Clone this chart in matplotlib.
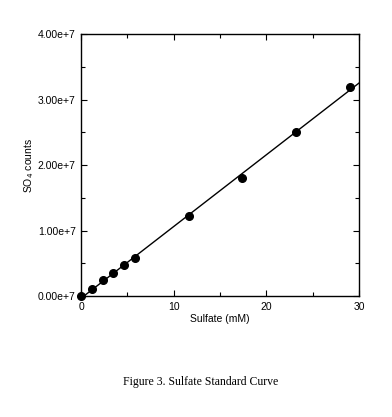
import matplotlib.pyplot as plt
import numpy as np
from matplotlib.ticker import MultipleLocator

# sulfate standards (mM) and measured SO4 counts
sulfate_mM = [0.0, 1.16, 2.32, 3.48, 4.64, 5.8, 11.6, 17.4, 23.2, 29.0]
so4_counts = [0.0, 0.11e7, 0.24e7, 0.35e7, 0.47e7, 0.58e7,
              1.22e7, 1.80e7, 2.51e7, 3.20e7]
x_ticks = [0, 10, 20, 30]
y_ticks = [0, 1e7, 2e7, 3e7, 4e7]
y_tick_labels = ["0.00e+7", "1.00e+7", "2.00e+7", "3.00e+7", "4.00e+7"]

x = np.array(sulfate_mM)
y = np.array(so4_counts)
slope, icpt = np.polyfit(x, y, 1)

plt.rcParams["font.family"] = ["Liberation Sans", "DejaVu Sans"]

fig = plt.figure(figsize=(3.92, 4.17), dpi=100)
ax = fig.add_axes([0.207, 0.290, 0.709, 0.628])

xf = np.array([0.0, 30.0])
ax.plot(xf, slope * xf + icpt, color="black", lw=1.0)
ax.plot(x, y, "o", color="black", ms=5.5, clip_on=False, zorder=3)

ax.set_xlim(0, 30)
ax.set_ylim(0, 4e7)
ax.xaxis.set_minor_locator(MultipleLocator(5))
ax.yaxis.set_minor_locator(MultipleLocator(0.5e7))
ax.set_xticks(x_ticks)
ax.set_xticklabels([str(t) for t in x_ticks])
ax.set_yticks(y_ticks)
ax.set_yticklabels(y_tick_labels)

ax.tick_params(which="both", direction="in", top=True, right=True,
               labelsize=7.5, width=0.8)
ax.tick_params(axis="y", pad=4)
ax.tick_params(axis="x", pad=4)
ax.tick_params(which="major", length=4)
ax.tick_params(which="minor", length=3)
for s in ax.spines.values():
    s.set_linewidth(1.0)

ax.set_xlabel("Sulfate (mM)", fontsize=7.5, labelpad=2)
ax.set_ylabel("SO$_4$ counts", fontsize=7.5, labelpad=1)

fig.text(0.513, 0.084, "Figure 3. Sulfate Standard Curve", ha="center",
         va="center", fontsize=8.5, family=["Liberation Serif", "DejaVu Serif"])

fig.savefig("out.png", dpi=100)
